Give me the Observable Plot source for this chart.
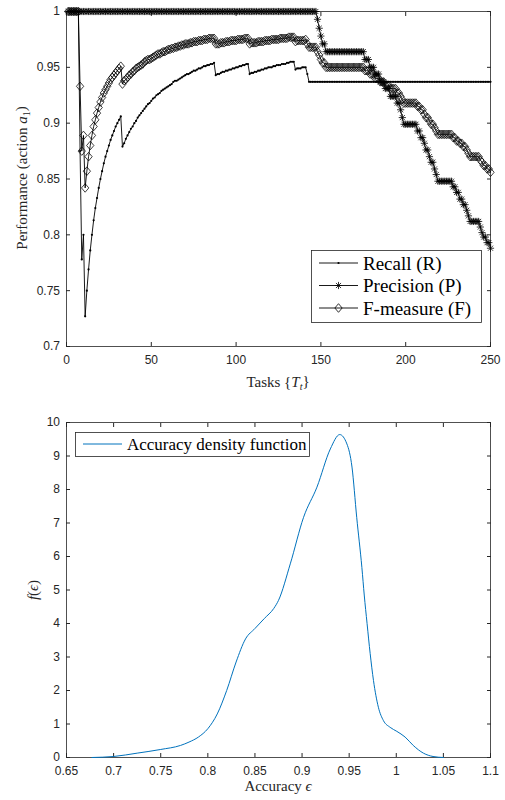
<!DOCTYPE html>
<html><head><meta charset="utf-8">
<script src="https://cdn.jsdelivr.net/npm/d3@7"></script>
<script src="https://cdn.jsdelivr.net/npm/@observablehq/plot@0.6"></script>
<style>
html,body{margin:0;padding:0;background:#fff;}
#chart svg{display:block;}
</style></head><body><div id="chart"></div>
<script>
// ---------- DATA ----------
const tasks = d3.range(1, 251);
const recall = [
1,1,1,1,1,1,1,0.875,0.778,0.8,
0.727,0.75,0.769,0.786,0.8,0.813,0.824,0.833,0.842,0.85,
0.857,0.864,0.87,0.875,0.88,0.885,0.889,0.893,0.897,0.9,
0.903,0.906,0.879,0.882,0.886,0.889,0.892,0.895,0.897,0.9,
0.902,0.905,0.907,0.909,0.911,0.913,0.915,0.917,0.918,0.92,
0.922,0.923,0.925,0.926,0.927,0.929,0.93,0.931,0.932,0.933,
0.934,0.935,0.937,0.938,0.938,0.939,0.94,0.941,0.942,0.943,
0.944,0.944,0.945,0.946,0.947,0.947,0.948,0.949,0.949,0.95,
0.951,0.951,0.952,0.952,0.953,0.953,0.954,0.943,0.944,0.944,
0.945,0.946,0.946,0.947,0.947,0.948,0.948,0.949,0.949,0.95,
0.95,0.951,0.951,0.952,0.952,0.953,0.953,0.944,0.945,0.945,
0.946,0.946,0.947,0.947,0.948,0.948,0.949,0.949,0.95,0.95,
0.95,0.951,0.951,0.952,0.952,0.952,0.953,0.953,0.953,0.954,
0.954,0.955,0.955,0.955,0.948,0.949,0.949,0.949,0.95,0.95,
0.95,0.944,0.937,0.937,0.937,0.937,0.937,0.937,0.937,0.937,
0.937,0.937,0.937,0.937,0.937,0.937,0.937,0.937,0.937,0.937,
0.937,0.937,0.937,0.937,0.937,0.937,0.937,0.937,0.937,0.937,
0.937,0.937,0.937,0.937,0.937,0.937,0.937,0.937,0.937,0.937,
0.937,0.937,0.937,0.937,0.937,0.937,0.937,0.937,0.937,0.937,
0.937,0.937,0.937,0.937,0.937,0.937,0.937,0.937,0.937,0.937,
0.937,0.937,0.937,0.937,0.937,0.937,0.937,0.937,0.937,0.937,
0.937,0.937,0.937,0.937,0.937,0.937,0.937,0.937,0.937,0.937,
0.937,0.937,0.937,0.937,0.937,0.937,0.937,0.937,0.937,0.937,
0.937,0.937,0.937,0.937,0.937,0.937,0.937,0.937,0.937,0.937,
0.937,0.937,0.937,0.937,0.937,0.937,0.937,0.937,0.937,0.937
];
const precision = [
1,1,1,1,1,1,1,1,1,1,
1,1,1,1,1,1,1,1,1,1,
1,1,1,1,1,1,1,1,1,1,
1,1,1,1,1,1,1,1,1,1,
1,1,1,1,1,1,1,1,1,1,
1,1,1,1,1,1,1,1,1,1,
1,1,1,1,1,1,1,1,1,1,
1,1,1,1,1,1,1,1,1,1,
1,1,1,1,1,1,1,1,1,1,
1,1,1,1,1,1,1,1,1,1,
1,1,1,1,1,1,1,1,1,1,
1,1,1,1,1,1,1,1,1,1,
1,1,1,1,1,1,1,1,1,1,
1,1,1,1,1,1,1,1,1,1,
1,1,1,1,1,1,1,0.993,0.985,0.978,
0.971,0.971,0.964,0.964,0.964,0.964,0.964,0.964,0.964,0.964,
0.964,0.964,0.964,0.964,0.964,0.964,0.964,0.964,0.964,0.964,
0.964,0.964,0.964,0.964,0.964,0.957,0.957,0.957,0.95,0.95,
0.95,0.944,0.944,0.944,0.937,0.937,0.937,0.931,0.931,0.931,
0.924,0.924,0.924,0.924,0.918,0.918,0.912,0.905,0.899,0.899,
0.899,0.899,0.899,0.899,0.899,0.899,0.893,0.893,0.887,0.887,
0.882,0.876,0.876,0.87,0.865,0.865,0.859,0.854,0.848,0.848,
0.848,0.848,0.848,0.848,0.848,0.848,0.848,0.843,0.843,0.838,
0.838,0.832,0.832,0.827,0.827,0.822,0.817,0.812,0.812,0.812,
0.812,0.812,0.812,0.807,0.802,0.798,0.798,0.793,0.793,0.788
];
const fmeasure = [
1,1,1,1,1,1,1,0.933,0.875,0.889,
0.842,0.857,0.87,0.88,0.889,0.897,0.903,0.909,0.914,0.919,
0.923,0.927,0.93,0.933,0.936,0.939,0.941,0.943,0.945,0.947,
0.949,0.951,0.935,0.938,0.939,0.941,0.943,0.944,0.946,0.947,
0.949,0.95,0.951,0.952,0.953,0.955,0.956,0.957,0.957,0.958,
0.959,0.96,0.961,0.962,0.962,0.963,0.964,0.964,0.965,0.966,
0.966,0.967,0.967,0.968,0.968,0.969,0.969,0.97,0.97,0.971,
0.971,0.971,0.972,0.972,0.973,0.973,0.973,0.974,0.974,0.974,
0.975,0.975,0.975,0.976,0.976,0.976,0.976,0.971,0.971,0.971,
0.972,0.972,0.972,0.973,0.973,0.973,0.974,0.974,0.974,0.974,
0.975,0.975,0.975,0.975,0.976,0.976,0.976,0.971,0.972,0.972,
0.972,0.972,0.973,0.973,0.973,0.973,0.974,0.974,0.974,0.974,
0.975,0.975,0.975,0.975,0.975,0.976,0.976,0.976,0.976,0.976,
0.977,0.977,0.977,0.977,0.973,0.974,0.974,0.974,0.974,0.974,
0.975,0.971,0.968,0.968,0.968,0.968,0.968,0.964,0.961,0.957,
0.954,0.954,0.95,0.95,0.95,0.95,0.95,0.95,0.95,0.95,
0.95,0.95,0.95,0.95,0.95,0.95,0.95,0.95,0.95,0.95,
0.95,0.95,0.95,0.95,0.95,0.947,0.947,0.947,0.944,0.944,
0.944,0.94,0.94,0.94,0.937,0.937,0.937,0.934,0.934,0.934,
0.931,0.931,0.931,0.931,0.927,0.927,0.924,0.921,0.918,0.918,
0.918,0.918,0.918,0.918,0.918,0.918,0.915,0.915,0.912,0.912,
0.908,0.905,0.905,0.902,0.899,0.899,0.896,0.893,0.89,0.89,
0.89,0.89,0.89,0.89,0.89,0.89,0.89,0.887,0.887,0.884,
0.884,0.882,0.882,0.879,0.879,0.876,0.873,0.87,0.87,0.87,
0.87,0.87,0.87,0.867,0.865,0.862,0.862,0.859,0.859,0.856
];
const seriesNames = ["Recall (R)", "Precision (P)", "F-measure (F)"];
const taskTicks = [0, 50, 100, 150, 200, 250];
const perfTicks = [0.7, 0.75, 0.8, 0.85, 0.9, 0.95, 1];

const accuracy = [0.677,0.70,0.725,0.75,0.771,0.78,0.79,0.80,0.81,0.82,0.83,0.84,0.85,0.86,0.87,0.875,0.8875,0.9016,0.9158,0.93,0.94,0.9476,0.953,0.958,0.9635,0.966,0.969,0.9723,0.9758,0.981,0.9864,0.9935,1.0006,1.0094,1.018,1.0288,1.039,1.05];
const density  = [0,0.03,0.13,0.24,0.36,0.46,0.61,0.86,1.30,2.0,2.85,3.54,3.85,4.15,4.45,4.69,5.78,7.17,8.07,9.21,9.64,9.36,8.67,7.17,5.67,4.85,4.0,3.1,2.3,1.5,1.1,0.9,0.78,0.61,0.36,0.13,0.03,0];
const densityName = "Accuracy density function";
const accTicks = [0.65,0.7,0.75,0.8,0.85,0.9,0.95,1,1.05,1.1];
const densTicks = [0,1,2,3,4,5,6,7,8,9,10];

// ---------- STYLE ----------
const W = 505;
const sans = "'Liberation Sans', Arial, Helvetica, sans-serif";
const serif = "'Liberation Serif', 'Times New Roman', serif";
const axisColor = "#262626";
const fmt = d3.format("~g");

const asteriskSym = {draw(ctx, size) {
  const r = Math.sqrt(size / Math.PI), d = r * Math.SQRT1_2;
  ctx.moveTo(-r, 0); ctx.lineTo(r, 0);
  ctx.moveTo(0, -r); ctx.lineTo(0, r);
  ctx.moveTo(-d, -d); ctx.lineTo(d, d);
  ctx.moveTo(-d, d); ctx.lineTo(d, -d);
}};
const diamondSym = {draw(ctx, size) {
  const r = Math.sqrt(size / Math.PI), w = r * 0.85;
  ctx.moveTo(0, -r); ctx.lineTo(w, 0); ctx.lineTo(0, r); ctx.lineTo(-w, 0); ctx.closePath();
}};

function boxAxes(xt, yt) {
  return [
    Plot.frame({stroke: axisColor, strokeWidth: 0.8}),
    Plot.axisX(xt, {anchor: "bottom", tickSize: -4, tickPadding: 12.5, tickFormat: fmt, label: null, stroke: axisColor, fill: axisColor}),
    Plot.axisX(xt, {anchor: "top", tickSize: -4, tickFormat: () => "", label: null, stroke: axisColor}),
    Plot.axisY(yt, {anchor: "left", tickSize: -4, tickPadding: 10.5, tickFormat: fmt, label: null, stroke: axisColor, fill: axisColor}),
    Plot.axisY(yt, {anchor: "right", tickSize: -4, tickFormat: () => "", label: null, stroke: axisColor})
  ];
}

function richText(svg, x, y, rotate, size, parts, anchor = "middle", color = axisColor) {
  const t = d3.select(svg).append("text")
    .attr("transform", `translate(${x},${y}) rotate(${rotate})`)
    .attr("text-anchor", anchor).attr("font-family", serif)
    .attr("font-size", size).attr("fill", color);
  for (const p of parts) {
    const s = t.append("tspan").text(p.t);
    if (p.i) s.attr("font-style", "italic");
    if (p.dy) s.attr("dy", p.dy);
    if (p.fs) s.attr("font-size", p.fs);
  }
  return t;
}

// ---------- TOP CHART ----------
const rows = tasks.map((t, i) => ({task: t, recall: recall[i], precision: precision[i], fmeasure: fmeasure[i]}));

const topChart = Plot.plot({
  width: W, height: 400,
  marginLeft: 66, marginRight: 15, marginTop: 11, marginBottom: 54,
  x: {domain: [0, 250]},
  y: {domain: [0.7, 1]},
  style: {fontFamily: sans, fontSize: "12px", color: axisColor, background: "white"},
  marks: [
    ...boxAxes(taskTicks, perfTicks),
    Plot.line(rows, {x: "task", y: "recall", stroke: "black", strokeWidth: 0.9}),
    Plot.dot(rows, {x: "task", y: "recall", r: 1.1, fill: "black", stroke: null}),
    Plot.line(rows, {x: "task", y: "precision", stroke: "black", strokeWidth: 0.9}),
    Plot.dot(rows, {x: "task", y: "precision", r: 3.6, symbol: asteriskSym, fill: "none", stroke: "black", strokeWidth: 0.8}),
    Plot.line(rows, {x: "task", y: "fmeasure", stroke: "black", strokeWidth: 0.9}),
    Plot.dot(rows, {x: "task", y: "fmeasure", r: 4.3, symbol: diamondSym, fill: "none", stroke: "black", strokeWidth: 0.75})
  ]
});

richText(topChart, 278, 387, 0, 15, [{t: "Tasks {"}, {t: "T", i: true}, {t: "t", i: true, dy: "0.3em", fs: "10px"}, {t: "}", dy: "-0.3em"}]);
richText(topChart, 27, 178, -90, 15, [{t: "Performance (action "}, {t: "a", i: true}, {t: "1", dy: "0.3em", fs: "10px"}, {t: ")", dy: "-0.3em"}]);

// legend (top)
{
  const g = d3.select(topChart).append("g").attr("text-anchor", "start");
  g.append("rect").attr("x", 311.5).attr("y", 250.5).attr("width", 170).attr("height", 72)
    .attr("fill", "white").attr("stroke", axisColor).attr("stroke-width", 0.8);
  const syms = [null, asteriskSym, diamondSym];
  seriesNames.forEach((name, i) => {
    const cy = 263 + i * 22.5;
    g.append("line").attr("x1", 319).attr("x2", 358).attr("y1", cy).attr("y2", cy)
      .attr("stroke", "black").attr("stroke-width", 0.9);
    if (i === 0) {
      g.append("circle").attr("cx", 338.5).attr("cy", cy).attr("r", 1.1).attr("fill", "black");
    } else {
      g.append("path").attr("transform", `translate(338.5,${cy})`)
        .attr("d", d3.symbol(syms[i], Math.PI * (i === 1 ? 3.6 * 3.6 : 4.3 * 4.3))())
        .attr("fill", "none").attr("stroke", "black").attr("stroke-width", 0.8);
    }
    g.append("text").attr("x", 363).attr("y", cy + 6.5).attr("text-anchor", "start")
      .attr("font-family", serif).attr("font-size", 19).attr("fill", "black").text(name);
  });
}

// ---------- BOTTOM CHART ----------
const drows = accuracy.map((a, i) => ({a, d: density[i]}));
const bottomChart = Plot.plot({
  width: W, height: 400,
  marginLeft: 66, marginRight: 15, marginTop: 22, marginBottom: 43,
  x: {domain: [0.65, 1.1]},
  y: {domain: [0, 10]},
  style: {fontFamily: sans, fontSize: "12px", color: axisColor, background: "white"},
  marks: [
    ...boxAxes(accTicks, densTicks),
    Plot.line(drows, {x: "a", y: "d", stroke: "#0072BD", strokeWidth: 1, curve: "monotone-x"})
  ]
});

richText(bottomChart, 278, 391, 0, 15, [{t: "Accuracy "}, {t: "ϵ", i: true}]);
richText(bottomChart, 38, 190, -90, 15, [{t: "f", i: true}, {t: "("}, {t: "ϵ", i: true}, {t: ")"}]);

{
  const g = d3.select(bottomChart).append("g").attr("text-anchor", "start");
  g.append("rect").attr("x", 75.5).attr("y", 32.5).attr("width", 234).attr("height", 24)
    .attr("fill", "white").attr("stroke", axisColor).attr("stroke-width", 0.8);
  g.append("line").attr("x1", 83).attr("x2", 122).attr("y1", 44).attr("y2", 44)
    .attr("stroke", "#0072BD").attr("stroke-width", 1);
  g.append("text").attr("x", 127).attr("y", 50).attr("text-anchor", "start")
    .attr("font-family", serif).attr("font-size", 17).attr("fill", "black").text(densityName);
}

document.getElementById("chart").append(topChart, bottomChart);
</script></body></html>
